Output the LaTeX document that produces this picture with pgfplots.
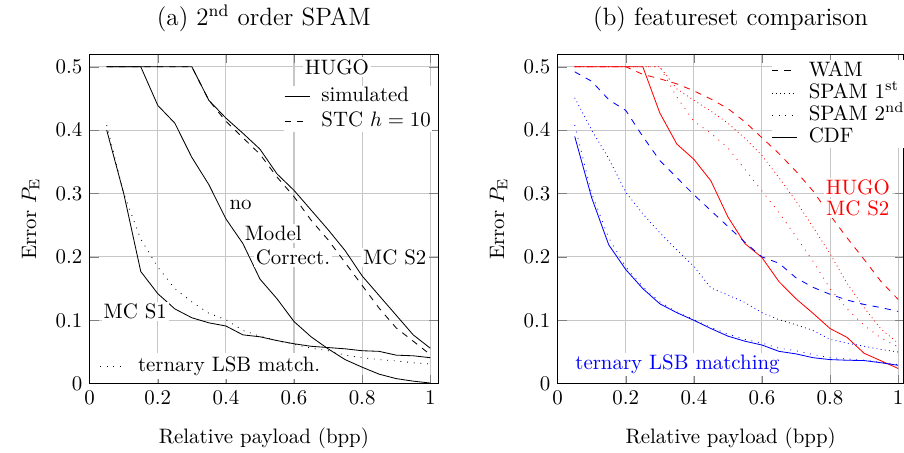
\documentclass[border=0pt]{standalone}
\usepackage{pgfplots}
\pgfplotsset{compat=1.18}
\usepackage{pgfplotstable}
\begin{document}
\pgfplotstableread{
x    s1    tern  nomc  s2    stc
0.05 0.400 0.408 0.500 0.500 0.500
0.10 0.300 0.300 0.500 0.500 0.500
0.15 0.177 0.228 0.500 0.500 0.500
0.20 0.142 0.184 0.439 0.500 0.500
0.25 0.118 0.150 0.411 0.500 0.500
0.30 0.104 0.129 0.357 0.500 0.500
0.35 0.096 0.111 0.314 0.447 0.447
0.40 0.091 0.101 0.260 0.419 0.414
0.45 0.077 0.084 0.221 0.395 0.388
0.50 0.074 0.075 0.165 0.370 0.362
0.55 0.068 0.068 0.134 0.331 0.326
0.60 0.063 0.062 0.098 0.305 0.295
0.65 0.059 0.056 0.074 0.274 0.258
0.70 0.057 0.052 0.055 0.243 0.227
0.75 0.055 0.045 0.038 0.210 0.191
0.80 0.052 0.041 0.026 0.170 0.155
0.85 0.051 0.038 0.015 0.139 0.119
0.90 0.045 0.036 0.008 0.108 0.088
0.95 0.044 0.033 0.004 0.077 0.067
1.00 0.041 0.031 0.001 0.056 0.046
}\lefttab
\pgfplotstableread{
x    hwam  hsa   hsb   hcdf  lwam  lsa   lsb   lcdf
0.05 0.500 0.500 0.500 0.500 0.492 0.451 0.408 0.390
0.10 0.500 0.500 0.500 0.500 0.477 0.400 0.300 0.293
0.15 0.500 0.500 0.500 0.500 0.448 0.355 0.230 0.219
0.20 0.500 0.500 0.500 0.500 0.431 0.302 0.184 0.180
0.25 0.488 0.500 0.500 0.500 0.390 0.268 0.153 0.150
0.30 0.481 0.500 0.500 0.427 0.352 0.238 0.129 0.126
0.35 0.473 0.465 0.452 0.378 0.325 0.211 0.113 0.112
0.40 0.462 0.447 0.414 0.354 0.298 0.185 0.101 0.100
0.45 0.449 0.430 0.395 0.320 0.273 0.151 0.089 0.087
0.50 0.434 0.411 0.372 0.263 0.248 0.140 0.078 0.075
0.55 0.413 0.387 0.338 0.221 0.223 0.128 0.070 0.067
0.60 0.388 0.360 0.304 0.199 0.200 0.112 0.064 0.061
0.65 0.363 0.325 0.270 0.161 0.190 0.101 0.056 0.051
0.70 0.335 0.288 0.232 0.134 0.167 0.093 0.052 0.047
0.75 0.304 0.247 0.193 0.111 0.152 0.084 0.046 0.041
0.80 0.266 0.205 0.150 0.087 0.141 0.070 0.041 0.038
0.85 0.230 0.158 0.118 0.073 0.132 0.064 0.039 0.037
0.90 0.196 0.120 0.092 0.048 0.125 0.059 0.037 0.0365
0.95 0.161 0.086 0.072 0.036 0.120 0.054 0.034 0.033
1.00 0.133 0.064 0.058 0.024 0.114 0.050 0.030 0.029
}\righttab
\tikzset{
  spamA/.style={dash pattern=on 0.4pt off 1.6pt},
  spamB/.style={dash pattern=on 0.4pt off 2.8pt},
  lab/.style={fill=white, inner sep=1pt},
}
\pgfplotsset{
  every axis title shift=0pt,
  common/.style={
    scale only axis, height=157.9pt,
    xmin=0, ymin=0, ymax=0.52,
    xtick={0,0.2,0.4,0.6,0.8,1}, ytick={0,0.1,0.2,0.3,0.4,0.5},
    grid=major, major grid style={line width=0.5pt, black!22},
    title style={at={(0.5,1)}, anchor=base, yshift=13.7pt, font=\large},
    xlabel={Relative payload (bpp)},
    ylabel={Error $P_{\mathrm{E}}$},
    xlabel style={at={(axis description cs:0.5,0)}, anchor=center, yshift=-26.3pt},
    legend image code/.code={\draw[##1] (0cm,0cm) -- (0.42cm,0cm);},
    legend cell align=left,
  },
}
\begin{tikzpicture}
\useasboundingbox (-36.3pt,-33.2pt) rectangle (390.1pt,183.8pt);
\begin{axis}[common, at={(0pt,0pt)}, anchor=south west,
  width=166.9pt, xmax=1.023,
  title={(a) 2\textsuperscript{nd} order SPAM},
  ylabel style={at={(axis description cs:-0.1696,0.5)}, anchor=center},
  legend style={draw=none, fill=white, inner sep=0pt, row sep=1.8pt, column sep=5pt,
    nodes={inner sep=0.5pt, text height=7pt, text depth=2pt},
    at={(axis description cs:0.557,0.904)}, anchor=north west},
]
\addplot[black, forget plot] table[x=x, y=s1] {\lefttab};
\addplot[black, spamB, forget plot] table[x=x, y=tern] {\lefttab};
\addplot[black, forget plot] table[x=x, y=nomc] {\lefttab};
\addplot[black] table[x=x, y=s2] {\lefttab};
\addlegendentry{simulated}
\addplot[black, dashed] table[x=x, y=stc] {\lefttab};
\addlegendentry{STC $h=10$}
\node[lab] at (axis cs:0.726,0.4995) {HUGO};
\node[lab] at (axis cs:0.443,0.282) {no};
\node[lab] at (axis cs:0.539,0.2376) {Model};
\node[lab] at (axis cs:0.597,0.1988) {Correct.};
\node[lab] at (axis cs:0.896,0.199) {MC S2};
\node[lab] at (axis cs:0.134,0.1134) {MC S1};
\node[fill=white, inner sep=1.5pt, anchor=west] at (axis cs:0.019,0.028)
  {\tikz[baseline=-2.2pt]\draw[black, spamB] (0,0)--(0.42cm,0);\hspace{6pt}ternary LSB match.};
\end{axis}
\begin{axis}[common, at={(224.2pt,0pt)}, anchor=south west,
  width=165.7pt, xmax=1.016,
  title={(b) featureset comparison},
  ylabel style={at={(axis description cs:-0.1708,0.5)}, anchor=center},
  legend style={draw=none, fill=white, inner sep=0pt, row sep=0.6pt, column sep=5pt,
    nodes={inner sep=0.5pt, text height=7pt, text depth=2pt},
    at={(axis description cs:0.617,0.982)}, anchor=north west},
]
\addlegendimage{black, dashed}
\addlegendentry{WAM}
\addlegendimage{black, spamA}
\addlegendentry{SPAM 1\textsuperscript{st}}
\addlegendimage{black, spamB}
\addlegendentry{SPAM 2\textsuperscript{nd}}
\addlegendimage{black}
\addlegendentry{CDF}
\addplot[red, dashed, forget plot] table[x=x, y=hwam] {\righttab};
\addplot[red, spamA, forget plot] table[x=x, y=hsa] {\righttab};
\addplot[red, spamB, forget plot] table[x=x, y=hsb] {\righttab};
\addplot[red, forget plot] table[x=x, y=hcdf] {\righttab};
\addplot[blue, dashed, forget plot] table[x=x, y=lwam] {\righttab};
\addplot[blue, spamA, forget plot] table[x=x, y=lsa] {\righttab};
\addplot[blue, spamB, forget plot] table[x=x, y=lsb] {\righttab};
\addplot[blue, forget plot] table[x=x, y=lcdf] {\righttab};
\node[lab, text=red] at (axis cs:0.8816,0.31) {HUGO};
\node[lab, text=red] at (axis cs:0.8816,0.2764) {MC S2};
\node[lab, text=blue] at (axis cs:0.352,0.0306) {ternary LSB matching};
\end{axis}
\end{tikzpicture}
\end{document}
